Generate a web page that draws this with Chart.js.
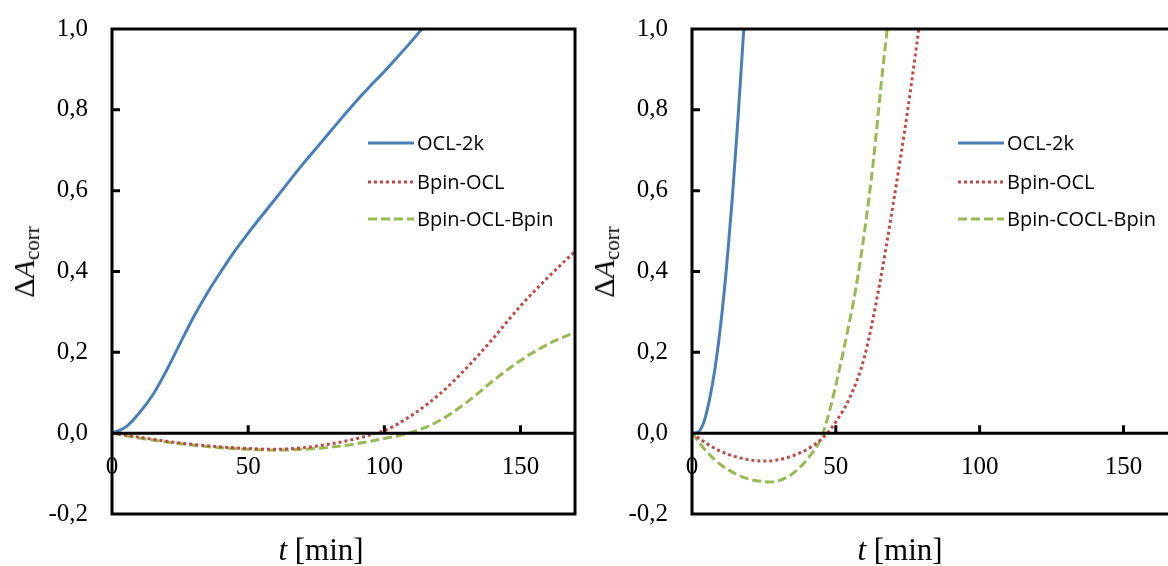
<!DOCTYPE html>
<html>
<head>
<meta charset="utf-8">
<script src="https://cdn.jsdelivr.net/npm/chart.js@4/dist/chart.umd.min.js"></script>
<style>
  html, body { margin: 0; padding: 0; background: #fff; }
  #wrap { position: relative; width: 1168px; height: 566px; overflow: hidden; }
  canvas { position: absolute; top: 0; }
  #c1 { left: 0; }
  #c2 { left: 580px; }
  .xt { position: absolute; top: 534px; transform: translateX(-50%); font-family: "Liberation Serif", serif; font-size: 31px; line-height: 1; white-space: nowrap; }
  .yt { position: absolute; transform: translate(-50%, -50%) rotate(-90deg); font-family: "Liberation Serif", serif; font-size: 30px; line-height: 1; white-space: nowrap; }
  .yt sub { font-size: 21px; vertical-align: -5px; }
  .leg { position: absolute; font-family: "Open Sans", sans-serif; font-size: 20px; line-height: 1; }
  .row { position: absolute; display: flex; align-items: center; white-space: nowrap; transform: translateY(-50%); }
  .row svg { margin-right: 3px; }
</style>
</head>
<body>
<div id="wrap">
  <canvas id="c1" width="580" height="566"></canvas>
  <canvas id="c2" width="606" height="566"></canvas>
  <div class="xt" style="left:321px"><i>t</i> [min]</div>
  <div class="xt" style="left:900px"><i>t</i> [min]</div>
  <div class="yt" style="left:26px; top:262px">&Delta;<i>A</i><sub>corr</sub></div>
  <div class="yt" style="left:606px; top:262px">&Delta;<i>A</i><sub>corr</sub></div>
  <div class="leg" id="leg1"></div>
  <div class="leg" id="leg2"></div>
</div>
<script>
// tick labels
const xTicks = [0, 50, 100, 150];
const yTicks = [-0.2, 0, 0.2, 0.4, 0.6, 0.8, 1.0];

// series names
const namesLeft = ['OCL-2k', 'Bpin-OCL', 'Bpin-OCL-Bpin'];
const namesRight = ['OCL-2k', 'Bpin-OCL', 'Bpin-COCL-Bpin'];

// left panel
const tOclL = [0, 5, 10, 15, 20, 25, 30, 35, 40, 45, 50, 55, 60, 65, 70, 75, 80, 85, 90, 95, 100, 105, 110, 115];
const vOclL = [0, 0.015, 0.05, 0.095, 0.155, 0.222, 0.288, 0.347, 0.4, 0.45, 0.495, 0.538, 0.58, 0.623, 0.665, 0.705, 0.745, 0.785, 0.824, 0.86, 0.895, 0.932, 0.97, 1.01];
const tBpinL = [0, 10, 20, 30, 40, 50, 60, 70, 80, 90, 97, 100, 110, 120, 130, 140, 150, 160, 170];
const vBpinL = [0, -0.01, -0.02, -0.028, -0.034, -0.038, -0.04, -0.036, -0.027, -0.013, 0, 0.006, 0.044, 0.095, 0.16, 0.235, 0.315, 0.385, 0.45];
const tBpin2L = [0, 10, 20, 30, 40, 50, 60, 70, 80, 90, 100, 110, 120, 130, 140, 150, 160, 170];
const vBpin2L = [0, -0.012, -0.022, -0.03, -0.036, -0.04, -0.042, -0.04, -0.035, -0.026, -0.013, 0.002, 0.03, 0.075, 0.13, 0.18, 0.22, 0.25];

// right panel
const tOclR = [0, 2, 4, 6, 8, 10, 12, 14, 16, 18, 19];
const vOclR = [0, 0.002, 0.025, 0.08, 0.16, 0.27, 0.41, 0.58, 0.78, 1.0, 1.11];
const tBpinR = [0, 5, 10, 15, 20, 25, 30, 35, 40, 45, 47, 50, 55, 60, 65, 70, 75, 80];
const vBpinR = [0, -0.025, -0.045, -0.058, -0.066, -0.069, -0.066, -0.056, -0.04, -0.015, 0, 0.028, 0.09, 0.19, 0.36, 0.57, 0.8, 1.06];
const tBpin2R = [0, 5, 10, 15, 20, 25, 28, 30, 35, 40, 45, 48, 51, 54, 57, 60, 63, 66, 68.5];
const vBpin2R = [0, -0.045, -0.078, -0.1, -0.114, -0.12, -0.121, -0.118, -0.1, -0.065, -0.01, 0.06, 0.15, 0.25, 0.36, 0.5, 0.67, 0.88, 1.04];

const colors = ['#4a7ebb', '#be4b48', '#98b954'];
const dashes = [[], [3, 3], [9, 4]];

function pts(t, v) {
  return t.map((x, i) => ({ x: x, y: v[i] }));
}

function fmt(v) {
  return v.toFixed(1).replace('.', ',');
}

// frame, zero line and inward ticks
const frame = {
  id: 'frame',
  afterDatasetsDraw(chart) {
    const { ctx, chartArea: a, scales: { x, y } } = chart;
    ctx.save();
    ctx.strokeStyle = '#000';
    ctx.lineWidth = 3;
    ctx.setLineDash([]);
    ctx.strokeRect(a.left, a.top, a.right - a.left, a.bottom - a.top);
    const y0 = y.getPixelForValue(0);
    ctx.beginPath();
    ctx.moveTo(a.left, y0);
    ctx.lineTo(a.right, y0);
    yTicks.forEach(v => {
      if (v > -0.2 && v < 1 && v !== 0) {
        const p = y.getPixelForValue(v);
        ctx.moveTo(a.left, p);
        ctx.lineTo(a.left + 8, p);
      }
    });
    xTicks.forEach(v => {
      if (v > 0) {
        const p = x.getPixelForValue(v);
        ctx.moveTo(p, y0);
        ctx.lineTo(p, y0 - 8);
      }
    });
    ctx.stroke();
    ctx.restore();
  }
};

function makeChart(id, names, series) {
  new Chart(document.getElementById(id), {
    type: 'line',
    data: {
      datasets: series.map((s, i) => ({
        label: names[i],
        data: pts(s[0], s[1]),
        borderColor: colors[i],
        borderWidth: 3,
        borderDash: dashes[i],
        pointRadius: 0,
        fill: false,
        cubicInterpolationMode: 'monotone'
      }))
    },
    options: {
      responsive: false,
      animation: false,
      events: [],
      layout: { padding: { left: 0, top: 29, right: 5, bottom: 52 } },
      plugins: { legend: { display: false }, tooltip: { enabled: false } },
      scales: {
        x: {
          type: 'linear',
          min: 0,
          max: 170,
          position: { y: 0 },
          grid: { display: false, drawTicks: false, tickLength: 0 },
          border: { display: false },
          afterBuildTicks: sc => { sc.ticks = xTicks.map(v => ({ value: v })); },
          ticks: {
            color: '#000',
            padding: 19,
            maxRotation: 0,
            font: { family: 'Liberation Serif', size: 25 }
          }
        },
        y: {
          type: 'linear',
          min: -0.2,
          max: 1.0,
          grid: { display: false, drawTicks: false, tickLength: 0 },
          border: { display: false },
          afterBuildTicks: sc => { sc.ticks = yTicks.map(v => ({ value: v })); },
          afterFit: sc => {
            sc.width = 112;
            sc.paddingTop = 0;
            sc.paddingBottom = 0;
          },
          ticks: {
            color: '#000',
            padding: 24,
            font: { family: 'Liberation Serif', size: 25 },
            callback: v => fmt(v)
          }
        }
      }
    },
    plugins: [frame]
  });
}

makeChart('c1', namesLeft, [[tOclL, vOclL], [tBpinL, vBpinL], [tBpin2L, vBpin2L]]);
makeChart('c2', namesRight, [[tOclR, vOclR], [tBpinR, vBpinR], [tBpin2R, vBpin2R]]);

// legends
function makeLegend(id, names, left, rows) {
  const el = document.getElementById(id);
  names.forEach((n, i) => {
    const row = document.createElement('div');
    row.className = 'row';
    row.style.left = left + 'px';
    row.style.top = rows[i] + 'px';
    const dash = dashes[i].length ? dashes[i].join(' ') : 'none';
    row.innerHTML = '<svg width="46" height="10"><line x1="0" y1="5" x2="46" y2="5" stroke="' + colors[i] +
      '" stroke-width="3" stroke-dasharray="' + dash + '"/></svg><span>' + n + '</span>';
    el.appendChild(row);
  });
}
makeLegend('leg1', namesLeft, 368, [143, 182, 219]);
makeLegend('leg2', namesRight, 958, [143, 182, 219]);
</script>
</body>
</html>
